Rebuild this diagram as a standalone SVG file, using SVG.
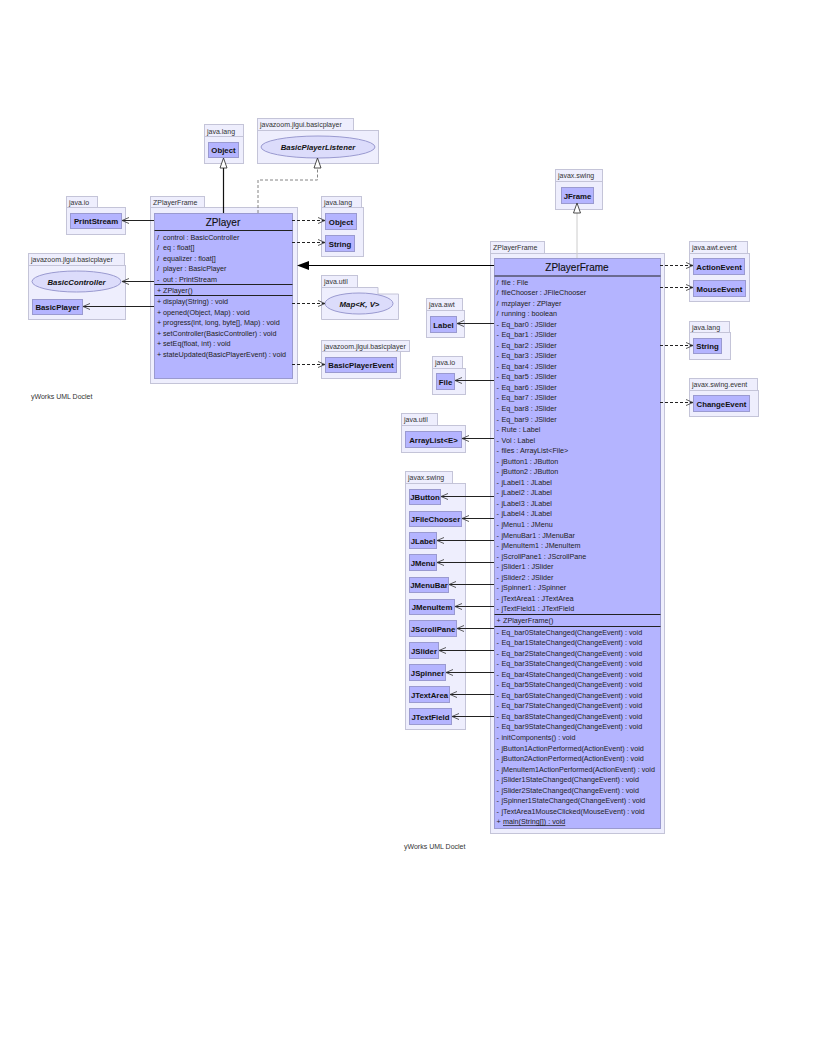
<svg xmlns="http://www.w3.org/2000/svg" width="816" height="1056" viewBox="0 0 816 1056">
<defs>
<marker id="open" markerUnits="userSpaceOnUse" markerWidth="10" markerHeight="10" refX="7.500" refY="4" orient="auto"><path d="M0.500 1L7.500 4L0.500 7" fill="none" stroke="#333" stroke-width="0.8"/></marker>
</defs>
<style>
text{font-family:"Liberation Sans",Arial,sans-serif;fill:#222}
.p{fill:#eeeefd;stroke:#c4c4d8;stroke-width:1}
.c{fill:#b4b4ff;stroke:#9a9ad0;stroke-width:1}
.n{font-size:7.800px;font-weight:bold;text-anchor:middle;fill:#111}
.e{font-size:7.800px;font-weight:bold;font-style:italic;text-anchor:middle;fill:#111}
.t{font-size:7px;fill:#333}
.m{font-size:7.200px;fill:#222}
.title{font-size:10px;text-anchor:middle;fill:#111;stroke:#111;stroke-width:0.15}
.l{fill:none;stroke:#222;stroke-width:1}
.s{stroke:#222;stroke-width:1;fill:none;marker-end:url(#open)}
.d{stroke:#222;stroke-width:1;fill:none;stroke-dasharray:3 2;marker-end:url(#open)}
.h{fill:#fff;stroke:#222;stroke-width:0.8}
.el{fill:#dcdcfb;stroke:#9a9ad0}
</style>
<g id="pkg-java-lang-top"><rect class="p" x="204.500" y="124.500" width="39" height="12"/><rect class="p" x="204.500" y="136.500" width="39" height="27"/><text class="t" x="207" y="133.500">java.lang</text></g>
<g id="Object-top"><rect class="c" x="208.500" y="142.500" width="30" height="15"/><text class="n" x="223.500" y="153">Object</text></g>
<g id="pkg-basicplayer-top"><rect class="p" x="257.500" y="118.500" width="96" height="12"/><rect class="p" x="257.500" y="130.500" width="121" height="33"/><text class="t" x="260" y="127">javazoom.jlgui.basicplayer</text></g>
<g id="BasicPlayerListener"><ellipse class="el" cx="318" cy="147" rx="57" ry="11"/><text class="e" x="318" y="150">BasicPlayerListener</text></g>
<g id="pkg-java-io"><rect class="p" x="66.500" y="196.500" width="31" height="11"/><rect class="p" x="66.500" y="207.500" width="59" height="27"/><text class="t" x="69" y="205">java.io</text></g>
<g id="PrintStream"><rect class="c" x="70.500" y="213.500" width="51" height="15"/><text class="n" x="96" y="224">PrintStream</text></g>
<g id="pkg-zplayerframe-1"><rect class="p" x="150.500" y="196.500" width="54" height="11"/><rect class="p" x="150.500" y="207.500" width="147" height="176"/><text class="t" x="153" y="205">ZPlayerFrame</text></g>
<g id="ZPlayer"><rect class="c" x="154.500" y="213.500" width="138" height="165"/><path class="l" d="M154.500 230.500H292.500M154.500 284.500H292.500M154.500 295.500H292.500"/>
<text class="title" x="223" y="226">ZPlayer</text>
<text class="m" y="239.500"><tspan x="157">/</tspan><tspan x="163">control : BasicController</tspan></text>
<text class="m" y="250"><tspan x="157">/</tspan><tspan x="163">eq : float[]</tspan></text>
<text class="m" y="260.500"><tspan x="157">/</tspan><tspan x="163">equalizer : float[]</tspan></text>
<text class="m" y="271"><tspan x="157">/</tspan><tspan x="163">player : BasicPlayer</tspan></text>
<text class="m" y="281.500"><tspan x="157">-</tspan><tspan x="163">out : PrintStream</tspan></text>
<text class="m" y="292.500"><tspan x="157">+</tspan><tspan x="163">ZPlayer()</tspan></text>
<text class="m" y="304"><tspan x="157">+</tspan><tspan x="163">display(String) : void</tspan></text>
<text class="m" y="314.500"><tspan x="157">+</tspan><tspan x="163">opened(Object, Map) : void</tspan></text>
<text class="m" y="325"><tspan x="157">+</tspan><tspan x="163">progress(int, long, byte[], Map) : void</tspan></text>
<text class="m" y="335.500"><tspan x="157">+</tspan><tspan x="163">setController(BasicController) : void</tspan></text>
<text class="m" y="346"><tspan x="157">+</tspan><tspan x="163">setEq(float, int) : void</tspan></text>
<text class="m" y="356.500"><tspan x="157">+</tspan><tspan x="163">stateUpdated(BasicPlayerEvent) : void</tspan></text></g>
<g id="pkg-java-lang-2"><rect class="p" x="321.500" y="196.500" width="40" height="11"/><rect class="p" x="321.500" y="207.500" width="42" height="49"/><text class="t" x="324" y="205">java.lang</text></g>
<g id="Object-2"><rect class="c" x="325.500" y="213.500" width="31" height="16"/><text class="n" x="341" y="224.500">Object</text></g>
<g id="String-2"><rect class="c" x="325.500" y="235.500" width="29" height="16"/><text class="n" x="340" y="246.500">String</text></g>
<g id="pkg-basicplayer-left"><rect class="p" x="28.500" y="253.500" width="96" height="12"/><rect class="p" x="28.500" y="265.500" width="97" height="54"/><text class="t" x="31" y="262">javazoom.jlgui.basicplayer</text></g>
<g id="BasicController"><ellipse class="el" cx="76.500" cy="281.500" rx="44.500" ry="10.500"/><text class="e" x="76.500" y="284.500">BasicController</text></g>
<g id="BasicPlayer"><rect class="c" x="32.500" y="299.500" width="50" height="15"/><text class="n" x="57.500" y="310">BasicPlayer</text></g>
<g id="pkg-java-util-1"><rect class="p" x="321.500" y="275.500" width="36" height="12"/><path class="p" d="M321.500 287.500H378V294H398.500V319.500H321.500Z"/><text class="t" x="324" y="284">java.util</text></g>
<g id="Map"><ellipse class="el" cx="359" cy="303.500" rx="34" ry="10.500"/><text class="e" x="359.500" y="306.500">Map&lt;K, V&gt;</text></g>
<g id="pkg-basicplayer-right"><rect class="p" x="321.500" y="340.500" width="88" height="11"/><rect class="p" x="321.500" y="351.500" width="79" height="27"/><text class="t" x="324" y="348.500">javazoom.jlgui.basicplayer</text></g>
<g id="BasicPlayerEvent"><rect class="c" x="325.500" y="357.500" width="71" height="15"/><text class="n" x="361" y="368">BasicPlayerEvent</text></g>
<g id="pkg-javax-swing-top"><rect class="p" x="555.500" y="169.500" width="47" height="12"/><rect class="p" x="555.500" y="181.500" width="47" height="28"/><text class="t" x="558" y="178">javax.swing</text></g>
<g id="JFrame"><rect class="c" x="561.500" y="187.500" width="32" height="16"/><text class="n" x="577.500" y="198.500">JFrame</text></g>
<g id="pkg-zplayerframe-2"><rect class="p" x="490.500" y="241.500" width="54" height="12"/><rect class="p" x="490.500" y="253.500" width="174" height="580"/><text class="t" x="493" y="250">ZPlayerFrame</text></g>
<g id="ZPlayerFrame"><rect class="c" x="494.500" y="258.500" width="166" height="570"/><path class="l" d="M494.500 276H660.500M494.500 614.500H660.500M494.500 626.500H660.500"/>
<text class="title" x="577" y="271">ZPlayerFrame</text>
<text class="m" y="284.500"><tspan x="496.500">/</tspan><tspan x="501.500">file : File</tspan></text>
<text class="m" y="295"><tspan x="496.500">/</tspan><tspan x="501.500">fileChooser : JFileChooser</tspan></text>
<text class="m" y="305.500"><tspan x="496.500">/</tspan><tspan x="501.500">mzplayer : ZPlayer</tspan></text>
<text class="m" y="316"><tspan x="496.500">/</tspan><tspan x="501.500">running : boolean</tspan></text>
<text class="m" y="326.600"><tspan x="496.500">-</tspan><tspan x="501.500">Eq_bar0 : JSlider</tspan></text>
<text class="m" y="337.100"><tspan x="496.500">-</tspan><tspan x="501.500">Eq_bar1 : JSlider</tspan></text>
<text class="m" y="347.700"><tspan x="496.500">-</tspan><tspan x="501.500">Eq_bar2 : JSlider</tspan></text>
<text class="m" y="358.200"><tspan x="496.500">-</tspan><tspan x="501.500">Eq_bar3 : JSlider</tspan></text>
<text class="m" y="368.800"><tspan x="496.500">-</tspan><tspan x="501.500">Eq_bar4 : JSlider</tspan></text>
<text class="m" y="379.300"><tspan x="496.500">-</tspan><tspan x="501.500">Eq_bar5 : JSlider</tspan></text>
<text class="m" y="389.900"><tspan x="496.500">-</tspan><tspan x="501.500">Eq_bar6 : JSlider</tspan></text>
<text class="m" y="400.400"><tspan x="496.500">-</tspan><tspan x="501.500">Eq_bar7 : JSlider</tspan></text>
<text class="m" y="411"><tspan x="496.500">-</tspan><tspan x="501.500">Eq_bar8 : JSlider</tspan></text>
<text class="m" y="421.500"><tspan x="496.500">-</tspan><tspan x="501.500">Eq_bar9 : JSlider</tspan></text>
<text class="m" y="432"><tspan x="496.500">-</tspan><tspan x="501.500">Rute : Label</tspan></text>
<text class="m" y="442.600"><tspan x="496.500">-</tspan><tspan x="501.500">Vol : Label</tspan></text>
<text class="m" y="453.100"><tspan x="496.500">-</tspan><tspan x="501.500">files : ArrayList&lt;File&gt;</tspan></text>
<text class="m" y="463.700"><tspan x="496.500">-</tspan><tspan x="501.500">jButton1 : JButton</tspan></text>
<text class="m" y="474.200"><tspan x="496.500">-</tspan><tspan x="501.500">jButton2 : JButton</tspan></text>
<text class="m" y="484.800"><tspan x="496.500">-</tspan><tspan x="501.500">jLabel1 : JLabel</tspan></text>
<text class="m" y="495.300"><tspan x="496.500">-</tspan><tspan x="501.500">jLabel2 : JLabel</tspan></text>
<text class="m" y="505.900"><tspan x="496.500">-</tspan><tspan x="501.500">jLabel3 : JLabel</tspan></text>
<text class="m" y="516.400"><tspan x="496.500">-</tspan><tspan x="501.500">jLabel4 : JLabel</tspan></text>
<text class="m" y="527"><tspan x="496.500">-</tspan><tspan x="501.500">jMenu1 : JMenu</tspan></text>
<text class="m" y="537.500"><tspan x="496.500">-</tspan><tspan x="501.500">jMenuBar1 : JMenuBar</tspan></text>
<text class="m" y="548"><tspan x="496.500">-</tspan><tspan x="501.500">jMenuItem1 : JMenuItem</tspan></text>
<text class="m" y="558.600"><tspan x="496.500">-</tspan><tspan x="501.500">jScrollPane1 : JScrollPane</tspan></text>
<text class="m" y="569.100"><tspan x="496.500">-</tspan><tspan x="501.500">jSlider1 : JSlider</tspan></text>
<text class="m" y="579.700"><tspan x="496.500">-</tspan><tspan x="501.500">jSlider2 : JSlider</tspan></text>
<text class="m" y="590.200"><tspan x="496.500">-</tspan><tspan x="501.500">jSpinner1 : JSpinner</tspan></text>
<text class="m" y="600.800"><tspan x="496.500">-</tspan><tspan x="501.500">jTextArea1 : JTextArea</tspan></text>
<text class="m" y="611.300"><tspan x="496.500">-</tspan><tspan x="501.500">jTextField1 : JTextField</tspan></text>
<text class="m" y="622.500"><tspan x="496.500">+</tspan><tspan x="503">ZPlayerFrame()</tspan></text>
<text class="m" y="634.500"><tspan x="496.500">-</tspan><tspan x="501.500">Eq_bar0StateChanged(ChangeEvent) : void</tspan></text>
<text class="m" y="645"><tspan x="496.500">-</tspan><tspan x="501.500">Eq_bar1StateChanged(ChangeEvent) : void</tspan></text>
<text class="m" y="655.600"><tspan x="496.500">-</tspan><tspan x="501.500">Eq_bar2StateChanged(ChangeEvent) : void</tspan></text>
<text class="m" y="666.100"><tspan x="496.500">-</tspan><tspan x="501.500">Eq_bar3StateChanged(ChangeEvent) : void</tspan></text>
<text class="m" y="676.700"><tspan x="496.500">-</tspan><tspan x="501.500">Eq_bar4StateChanged(ChangeEvent) : void</tspan></text>
<text class="m" y="687.200"><tspan x="496.500">-</tspan><tspan x="501.500">Eq_bar5StateChanged(ChangeEvent) : void</tspan></text>
<text class="m" y="697.800"><tspan x="496.500">-</tspan><tspan x="501.500">Eq_bar6StateChanged(ChangeEvent) : void</tspan></text>
<text class="m" y="708.300"><tspan x="496.500">-</tspan><tspan x="501.500">Eq_bar7StateChanged(ChangeEvent) : void</tspan></text>
<text class="m" y="718.900"><tspan x="496.500">-</tspan><tspan x="501.500">Eq_bar8StateChanged(ChangeEvent) : void</tspan></text>
<text class="m" y="729.400"><tspan x="496.500">-</tspan><tspan x="501.500">Eq_bar9StateChanged(ChangeEvent) : void</tspan></text>
<text class="m" y="740"><tspan x="496.500">-</tspan><tspan x="501.500">initComponents() : void</tspan></text>
<text class="m" y="750.500"><tspan x="496.500">-</tspan><tspan x="501.500">jButton1ActionPerformed(ActionEvent) : void</tspan></text>
<text class="m" y="761"><tspan x="496.500">-</tspan><tspan x="501.500">jButton2ActionPerformed(ActionEvent) : void</tspan></text>
<text class="m" y="771.600"><tspan x="496.500">-</tspan><tspan x="501.500">jMenuItem1ActionPerformed(ActionEvent) : void</tspan></text>
<text class="m" y="782.100"><tspan x="496.500">-</tspan><tspan x="501.500">jSlider1StateChanged(ChangeEvent) : void</tspan></text>
<text class="m" y="792.700"><tspan x="496.500">-</tspan><tspan x="501.500">jSlider2StateChanged(ChangeEvent) : void</tspan></text>
<text class="m" y="803.200"><tspan x="496.500">-</tspan><tspan x="501.500">jSpinner1StateChanged(ChangeEvent) : void</tspan></text>
<text class="m" y="813.800"><tspan x="496.500">-</tspan><tspan x="501.500">jTextArea1MouseClicked(MouseEvent) : void</tspan></text>
<text class="m" y="824.300"><tspan x="496.500">+</tspan><tspan x="503" text-decoration="underline">main(String[]) : void</tspan></text></g>
<g id="pkg-java-awt-event"><rect class="p" x="689.500" y="241.500" width="58" height="12"/><rect class="p" x="689.500" y="253.500" width="60" height="48"/><text class="t" x="692" y="250">java.awt.event</text></g>
<g id="ActionEvent"><rect class="c" x="693.500" y="258.500" width="51" height="16"/><text class="n" x="719" y="269.500">ActionEvent</text></g>
<g id="MouseEvent"><rect class="c" x="693.500" y="280.500" width="52" height="16"/><text class="n" x="719.500" y="291.500">MouseEvent</text></g>
<g id="pkg-java-lang-3"><rect class="p" x="689.500" y="321.500" width="40" height="11"/><rect class="p" x="689.500" y="332.500" width="41" height="27"/><text class="t" x="692" y="330">java.lang</text></g>
<g id="String-3"><rect class="c" x="693.500" y="338.500" width="28" height="15"/><text class="n" x="707.500" y="349">String</text></g>
<g id="pkg-javax-swing-event"><rect class="p" x="689.500" y="378.500" width="68" height="12"/><rect class="p" x="689.500" y="390.500" width="69" height="26"/><text class="t" x="692" y="387">javax.swing.event</text></g>
<g id="ChangeEvent"><rect class="c" x="693.500" y="395.500" width="56" height="16"/><text class="n" x="721.500" y="406.500">ChangeEvent</text></g>
<g id="pkg-java-awt"><rect class="p" x="426.500" y="298.500" width="36" height="12"/><rect class="p" x="426.500" y="310.500" width="38" height="27"/><text class="t" x="429" y="307">java.awt</text></g>
<g id="Label"><rect class="c" x="430.500" y="316.500" width="26" height="16"/><text class="n" x="443.500" y="327.500">Label</text></g>
<g id="pkg-java-io-2"><rect class="p" x="432.500" y="356.500" width="30" height="12"/><rect class="p" x="432.500" y="368.500" width="33" height="26"/><text class="t" x="435" y="365">java.io</text></g>
<g id="File"><rect class="c" x="436.500" y="373.500" width="18" height="16"/><text class="n" x="445.500" y="384.500">File</text></g>
<g id="pkg-java-util-2"><rect class="p" x="401.500" y="413.500" width="36" height="12"/><rect class="p" x="401.500" y="425.500" width="64" height="27"/><text class="t" x="404" y="422">java.util</text></g>
<g id="ArrayList"><rect class="c" x="405.500" y="431.500" width="56" height="16"/><text class="n" x="433.500" y="442.500">ArrayList&lt;E&gt;</text></g>
<g id="pkg-javax-swing"><rect class="p" x="405.500" y="471.500" width="47" height="12"/><rect class="p" x="405.500" y="483.500" width="60" height="246"/><text class="t" x="408" y="480">javax.swing</text></g>
<g id="JButton"><rect class="c" x="409.500" y="489.500" width="31" height="15"/><text class="n" x="425" y="500">JButton</text></g>
<g id="JFileChooser"><rect class="c" x="409.500" y="511.500" width="52" height="15"/><text class="n" x="435.500" y="522">JFileChooser</text></g>
<g id="JLabel"><rect class="c" x="409.500" y="532.500" width="27" height="16"/><text class="n" x="423" y="543.500">JLabel</text></g>
<g id="JMenu"><rect class="c" x="409.500" y="554.500" width="27" height="16"/><text class="n" x="423" y="565.500">JMenu</text></g>
<g id="JMenuBar"><rect class="c" x="409.500" y="577.500" width="39" height="15"/><text class="n" x="429" y="588">JMenuBar</text></g>
<g id="JMenuItem"><rect class="c" x="409.500" y="599.500" width="45" height="15"/><text class="n" x="432" y="610">JMenuItem</text></g>
<g id="JScrollPane"><rect class="c" x="409.500" y="620.500" width="47" height="16"/><text class="n" x="433" y="631.500">JScrollPane</text></g>
<g id="JSlider"><rect class="c" x="409.500" y="642.500" width="29" height="16"/><text class="n" x="424" y="653.500">JSlider</text></g>
<g id="JSpinner"><rect class="c" x="409.500" y="664.500" width="36" height="16"/><text class="n" x="427.500" y="675.500">JSpinner</text></g>
<g id="JTextArea"><rect class="c" x="409.500" y="686.500" width="40" height="16"/><text class="n" x="429.500" y="697.500">JTextArea</text></g>
<g id="JTextField"><rect class="c" x="409.500" y="708.500" width="42" height="16"/><text class="n" x="430.500" y="719.500">JTextField</text></g>
<text class="t" x="31" y="399">yWorks UML Doclet</text>
<text class="t" x="404" y="849">yWorks UML Doclet</text>
<g id="connectors">
<path d="M223.500 213V168" stroke="#111" stroke-width="1.200" fill="none"/><path class="h" d="M223.500 158l-3.500 10h7z"/>
<path d="M258 213V180H317.500V168" stroke="#666" stroke-width="0.800" stroke-dasharray="3 2" fill="none"/><path class="h" d="M317.500 158l-3.500 10h7z"/>
<path d="M577 258V213" stroke="#ccc" stroke-width="1" fill="none"/><path class="h" d="M577 203l-3.500 10h7z"/>
<path d="M154 220.500H122" class="s"/>
<path d="M154 281.500H122" class="s"/>
<path d="M154 306.500H83" class="s"/>
<path d="M292 220.500H325" class="d"/>
<path d="M292 242.500H325" class="d"/>
<path d="M292 303.500H325" class="d"/>
<path d="M292 364.500H325" class="d"/>
<path d="M494 265.500H305" stroke="#000" stroke-width="1.200" fill="none"/><path d="M297 265.500L309 261V270Z" fill="#000"/>
<path d="M660 265.500H693" class="d"/>
<path d="M660 287.500H693" class="d"/>
<path d="M660 345.500H693" class="d"/>
<path d="M660 402.500H693" class="d"/>
<path d="M494 323.500H457" class="s"/>
<path d="M494 380.500H455" class="s"/>
<path d="M494 438.500H462" class="s"/>
<path d="M494 496.500H441" class="s"/>
<path d="M494 518.500H462" class="s"/>
<path d="M494 540.500H437" class="s"/>
<path d="M494 562.500H437" class="s"/>
<path d="M494 584.500H449" class="s"/>
<path d="M494 606.500H455" class="s"/>
<path d="M494 628.500H457" class="s"/>
<path d="M494 650.500H439" class="s"/>
<path d="M494 672.500H446" class="s"/>
<path d="M494 694.500H450" class="s"/>
<path d="M494 716.500H452" class="s"/>
</g>
</svg>
